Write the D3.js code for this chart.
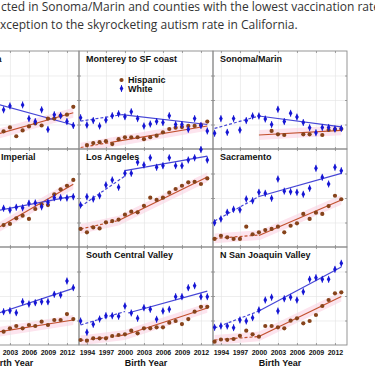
<!DOCTYPE html>
<html>
<head>
<meta charset="utf-8">
<script src="https://cdn.jsdelivr.net/npm/d3@7"></script>
<style>
  body { margin: 0; background: #fff; }
  svg { display: block; }
  .grid line { stroke: #e2e2e2; stroke-width: 0.6; }
  .grid path, .frame path { display: none; }
  .frame line { stroke: #8a8a8a; stroke-width: 0.8; }
  .frame text { font-family: "Liberation Sans", Arial, sans-serif; font-weight: bold; font-size: 7px; fill: #111; }
</style>
</head>
<body>
<svg id="chart" width="375" height="375"></svg>
<script>
// DATA
const years = [1993, 1994, 1995, 1996, 1997, 1998, 1999, 2000, 2001, 2002, 2003,
  2004, 2005, 2006, 2007, 2008, 2009, 2010, 2011, 2012, 2013];

const regions = ['Santa Clara', 'Monterey to SF coast', 'Sonoma/Marin',
  'San Diego/ Imperial', 'Los Angeles', 'Sacramento',
  'Orange', 'South Central Valley', 'N San Joaquin Valley'];

const seriesNames = ['Hispanic', 'White'];
const yearTicks = [1994, 1997, 2000, 2003, 2006, 2009, 2012];
const rateTicks = [25, 50, 75];
const axisTitle = 'Birth Year';

const introLines = [
  'cted in Sonoma/Marin and counties with the lowest vaccination rates',
  'xception to the skyrocketing autism rate in California.'
];

// autism rate (0-100 of the panel height)
const whiteRates = [
  [null, null, null, null, null, null, null, null, null, 40, 44, null, 45, 31, 28, 40, 20, 35, 34, 28, 24],
  [32, 24.5, 29, 23.5, 29.6, 34, 36, 33, 38, 31, 23.5, 25.5, 28, 27, 34, 25, 25, 20, 31, 24, 18.4],
  [16, 31, 17, 31, 19.4, 29, 33.7, 33.7, 30.6, 25, 40.5, 28, 36.4, 32.6, 27, 21.7, 16.6, 22, 22, 20.4, 21],
  [null, null, null, null, null, null, null, null, null, 39.5, 37.7, 40.5, 40, 44.6, 45, 41, 45.6, 50.3, 50.3, 50, 51.3],
  [42.8, 51.3, 49, 52.3, 63.3, 68.4, 61, 75.2, 75.2, 86.4, 83.7, 91, 81.3, 83, 91, 83, 83, 88.8, 91, 99.5, 88.8],
  [24.8, 28.6, 35.4, 38.5, 37.9, 49, 47.2, 55.8, 54.8, 49.7, 69.4, 57, 56.4, 55.8, 53.8, 59.9, 80.3, 71.1, 64.3, 81.3, 77.9],
  [null, null, null, null, null, null, null, null, null, 34, 35, 33, 44.2, 41.8, 43.2, 44.2, 44.2, 51.7, 51, 65.3, 58.5],
  [24.5, 13, 21.1, 26.5, 29.9, 29.8, 29.3, 39.8, 32.7, 27.2, 38, 36.4, 26.2, 34.7, 36.4, 49.3, 49.3, 58.5, 60.5, 49.3, 49.3],
  [18, 19.4, 19.4, 17.7, 25.5, 24.5, 27.9, 35.7, 45.9, 48.7, 34.7, 47.2, 48.7, 45.9, 54.4, 67, 68.7, 67, 67, 77.2, 83.4]
];

const hispanicRates = [
  [null, null, null, null, null, null, null, null, null, 18, 22, 13, 19, 23, 26, 24, 31, 31, 34, 35, 43],
  [null, 4, 6, 7, 8, 5, 10, 12, 12, 12, 10, 12, 13.6, 17, 20.4, 21.7, 22.4, 23.5, 23.5, 24.5, 28],
  [null, null, null, null, null, null, null, null, null, 18.4, 15, 14.3, null, null, 15, 15, null, 14.3, 19.4, 20, 20.4],
  [null, null, null, null, null, null, null, null, null, 22.4, 23.5, 29.3, 32, 28.6, 38.8, 43.6, 42.8, 53.8, 58.9, 62.5, 68.4],
  [18.4, 15, 20, 19, 25.2, 26.5, 28, 33, 36, 35.4, 42, 50.3, 48, 50.3, 55.4, 59.2, 62.5, 66, 66.6, 64.3, 70],
  [8.2, 11.5, 9.9, 8.2, 8.2, 20.7, 13, 15, 17.3, 18.4, 20.7, 15, 21.7, 24.2, 33.7, 28.6, 35, 33.7, 41.8, 52.3, 48.7],
  [null, null, null, null, null, null, null, null, null, 13.6, 17, 19.4, 17, 20.4, 19.4, 23.8, 20.4, 25.5, 25.5, 31.6, 26.5],
  [5.1, 4.4, 6.8, 6.8, 6.8, 9.2, 10.2, 10.9, 14.6, 11.9, 17, 17, 18, 18, 22.8, 24.5, 21.4, 26.5, 34, 39, 39],
  [3.4, 5.6, 5.3, 6.1, 9.4, 14.6, 10.9, 8.5, 19.4, 19.4, 18, 17, 24.8, 27.2, 22.1, 24.5, 30.6, 39.8, 45.9, 52.7, 53.8]
];

// fitted trend segments: [fromYear, fromRate, toYear, toRate]
const whiteFits = [
  [[2001.4, 45, 2013, 24.5]],
  [[1993, 28.5, 1999.5, 35], [1999.5, 35, 2013, 25]],
  [[1993, 21, 2000, 33.7], [2000, 33.7, 2013, 22.5]],
  [[2001.4, 37.7, 2013, 52]],
  [[1993, 41.3, 2000, 72.4], [2000, 78, 2013, 92.8]],
  [[1993, 26.5, 2000, 51.5], [2000, 51.5, 2013, 75.2]],
  [[2001.4, 33, 2013, 57.8]],
  [[1993, 20.4, 2000, 34.2], [2000.5, 32.7, 2013, 55]],
  [[1993, 17.3, 2000, 34.7], [2000, 34.7, 2013, 79.6]]
];

const hispanicFits = [
  [[2001.4, 16, 2013, 37]],
  [[1993, 1.5, 1998, 7], [1998, 7, 2013, 23.5]],
  [[2000, 14.3, 2013, 19]],
  [[2001.4, 20.7, 2013, 64]],
  [[1993, 18.4, 1999, 27], [1999, 27, 2013, 71.4]],
  [[1993, 8.7, 2000, 12.2], [2000, 11.7, 2013, 48]],
  [[2001.4, 13.6, 2013, 25.5]],
  [[1993, 4.6, 2000, 10.2], [2000, 10.2, 2013, 37.8]],
  [[1993, 5.1, 2000, 8.7], [2000, 8.7, 2013, 49.5]]
];

// SETUP
const svg = d3.select('#chart');
const origin = { left: -55, top: 51 };
const pw = 134, ph = 98;
const blue = '#1616d4', brown = '#86431a';
const blueLine = '#4646d6', brownLine = '#c2512f', bandFill = '#fde4ee';
const bandHalf = 5;

const x = d3.scaleLinear().domain([1992.75, 2013.9]).range([0, pw]);
const y = d3.scaleLinear().domain([0, 100]).range([ph, 0]);

svg.append('rect').attr('width', 375).attr('height', 375).attr('fill', '#fff');

// INTRO TEXT
svg.selectAll('.intro')
  .data(introLines)
  .enter()
  .append('text')
  .attr('class', 'intro')
  .attr('x', (d, i) => (i === 0 ? 1 : 0))
  .attr('y', (d, i) => 11 + i * 17.5)
  .style('font-family', '"Open Sans", sans-serif')
  .style('font-size', '12px')
  .style('fill', '#333')
  .text(d => d);

const segLine = d3.line().x(d => x(d[0])).y(d => y(d[1]));
const segBand = d3.area()
  .x(d => x(d[0]))
  .y0(d => y(d[1] - bandHalf))
  .y1(d => y(d[1] + bandHalf));

function drawFits(g, fits, color) {
  fits.forEach((s, k) => {
    g.append('path')
      .attr('d', segLine([[s[0], s[1]], [s[2], s[3]]]))
      .attr('fill', 'none')
      .attr('stroke', color)
      .attr('stroke-width', 1.2)
      .attr('stroke-dasharray', fits.length > 1 && k === 0 ? '3,2' : null);
  });
}

function whiteMarker(g, cx, cy) {
  g.append('line')
    .attr('x1', cx).attr('x2', cx)
    .attr('y1', cy - 3.5).attr('y2', cy + 3.5)
    .attr('stroke', blue).attr('stroke-width', 0.8);
  g.append('path')
    .attr('d', d3.symbol().type(d3.symbolDiamond).size(12)())
    .attr('transform', `translate(${cx},${cy})`)
    .attr('fill', blue);
}

function hispMarker(g, cx, cy) {
  g.append('circle')
    .attr('cx', cx).attr('cy', cy).attr('r', 2.1)
    .attr('fill', brown);
}

// PANELS
regions.forEach((name, i) => {
  const col = i % 3, row = Math.floor(i / 3);
  const g = svg.append('g')
    .attr('transform', `translate(${origin.left + col * pw},${origin.top + row * ph})`);

  g.append('clipPath').attr('id', 'clip' + i)
    .append('rect').attr('width', pw).attr('height', ph);
  const inner = g.append('g').attr('clip-path', `url(#clip${i})`);

  // confidence band round the Hispanic trend
  hispanicFits[i].forEach(s => {
    inner.append('path')
      .attr('d', segBand([[s[0], s[1]], [s[2], s[3]]]))
      .attr('fill', bandFill);
  });

  // GRID
  inner.append('g').attr('class', 'grid')
    .attr('transform', `translate(0,${ph})`)
    .call(d3.axisBottom(x).tickValues(yearTicks).tickSize(-ph).tickFormat(''));
  inner.append('g').attr('class', 'grid')
    .call(d3.axisLeft(y).tickValues(rateTicks).tickSize(-pw).tickFormat(''));

  // FRAME TICKS
  g.append('g').attr('class', 'frame')
    .call(d3.axisTop(x).tickValues(yearTicks).tickSize(-2).tickFormat(''));
  g.append('g').attr('class', 'frame')
    .attr('transform', `translate(${pw},0)`)
    .call(d3.axisRight(y).tickValues(rateTicks).tickSize(-2).tickFormat(''));
  g.append('g').attr('class', 'frame')
    .call(d3.axisLeft(y).tickValues(rateTicks).tickSize(-2).tickFormat(''));
  const bottom = g.append('g').attr('class', 'frame')
    .attr('transform', `translate(0,${ph})`)
    .call(d3.axisBottom(x).tickValues(yearTicks).tickSize(-2)
      .tickFormat(row === 2 ? d3.format('d') : ''));
  bottom.selectAll('text').attr('y', 5).attr('dy', '0.71em');

  g.append('rect')
    .attr('width', pw).attr('height', ph)
    .attr('fill', 'none').attr('stroke', '#8a8a8a').attr('stroke-width', 0.9);

  // TRENDS
  drawFits(inner, hispanicFits[i], brownLine);
  drawFits(inner, whiteFits[i], blueLine);

  // POINTS
  years.forEach((yr, j) => {
    const h = hispanicRates[i][j];
    if (h != null) hispMarker(g, x(yr), y(h));
  });
  years.forEach((yr, j) => {
    const w = whiteRates[i][j];
    if (w != null) whiteMarker(g, x(yr), y(w));
  });

  // TITLE
  g.append('text')
    .attr('x', 7).attr('y', 10.5)
    .style('font-family', '"Liberation Sans", Arial, sans-serif')
    .style('font-weight', 'bold')
    .style('font-size', '9px')
    .style('fill', '#111')
    .text(name);

  if (row === 2) {
    g.append('text')
      .attr('x', pw / 2).attr('y', ph + 21)
      .attr('text-anchor', 'middle')
      .style('font-family', '"Liberation Sans", Arial, sans-serif')
      .style('font-weight', 'bold')
      .style('font-size', '9px')
      .style('fill', '#111')
      .text(axisTitle);
  }

  // LEGEND
  if (i === 1) {
    seriesNames.forEach((s, k) => {
      const ly = 29 + k * 8.5;
      if (k === 0) hispMarker(g, 42.5, ly);
      else whiteMarker(g, 42.5, ly);
      g.append('text')
        .attr('x', 49).attr('y', ly + 3)
        .style('font-family', '"Liberation Sans", Arial, sans-serif')
        .style('font-weight', 'bold')
        .style('font-size', '9px')
        .style('fill', '#111')
        .text(s);
    });
  }
});
</script>
</body>
</html>
